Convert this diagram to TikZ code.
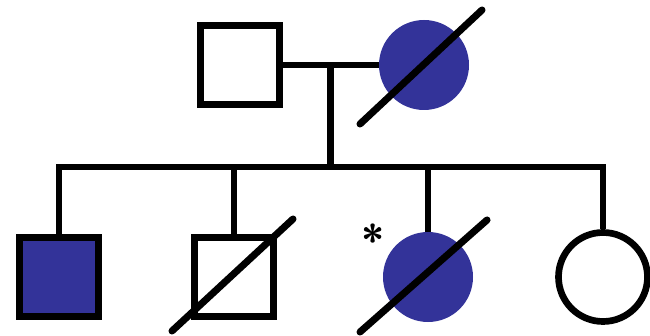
\documentclass[tikz,border=0pt]{standalone}
\usepackage{tikz}
\usetikzlibrary{positioning,calc}
\definecolor{affected}{HTML}{333399}
\definecolor{ink}{HTML}{000000}
\tikzset{
  pline/.style={draw=ink,line width=3.8pt},
  male/.style={rectangle,draw=ink,fill=white,line width=3.8pt,
               minimum size=1.58cm,inner sep=0pt},
  malefill/.style={male,fill=affected},
  female/.style={circle,draw=ink,fill=white,line width=3.8pt,
                 minimum size=1.78cm,inner sep=0pt},
  femalefill/.style={circle,fill=affected,minimum size=1.8cm,inner sep=0pt},
  deceased/.style={draw=ink,line width=4pt,line cap=round}
}

\begin{document}
\begin{tikzpicture}[x=1cm,y=1cm]
    \useasboundingbox (0,0) rectangle (13,6.7);
    % parents
    \node[male] (father) at (4.80,5.40) {};
    \node[femalefill] (mother) at (8.48,5.40) {};
    \draw[deceased] ([shift={(-1.28,-1.18)}]mother.center)
      -- ([shift={(1.16,1.10)}]mother.center);
    % children
    \node[malefill] (son1) at (1.18,1.16) {};
    \node[male] (son2) at (4.68,1.16) {};
    \node[femalefill] (dau1) at (8.56,1.16) {};
    \node[female] (dau2) at (12.06,1.16) {};
    \draw[deceased] ([shift={(-1.24,-1.08)}]son2.center)
      -- ([shift={(1.18,1.16)}]son2.center);
    \draw[deceased] ([shift={(-1.36,-1.10)}]dau1.center)
      -- ([shift={(1.18,1.14)}]dau1.center);
    \node[font=\fontsize{24}{24}\selectfont\sffamily\bfseries,inner sep=0pt]
      (proband) at (7.46,1.90) {*};
    % lines of descent
    \coordinate (mid) at ($(father.east)!0.5!(mother.west)$);
    \coordinate (sib) at ($(mid)+(0,-2.04)$);
    \draw[pline] (father.east) -- (mother.west);
    \draw[pline] (mid) -- (sib);
    \draw[pline] (son1.north) |- (sib) -| (dau2.north);
    \draw[pline] (son2.north) -- (son2.north |- sib);
    \draw[pline] (dau1.north) -- (dau1.north |- sib);
  \end{tikzpicture}
\end{document}
